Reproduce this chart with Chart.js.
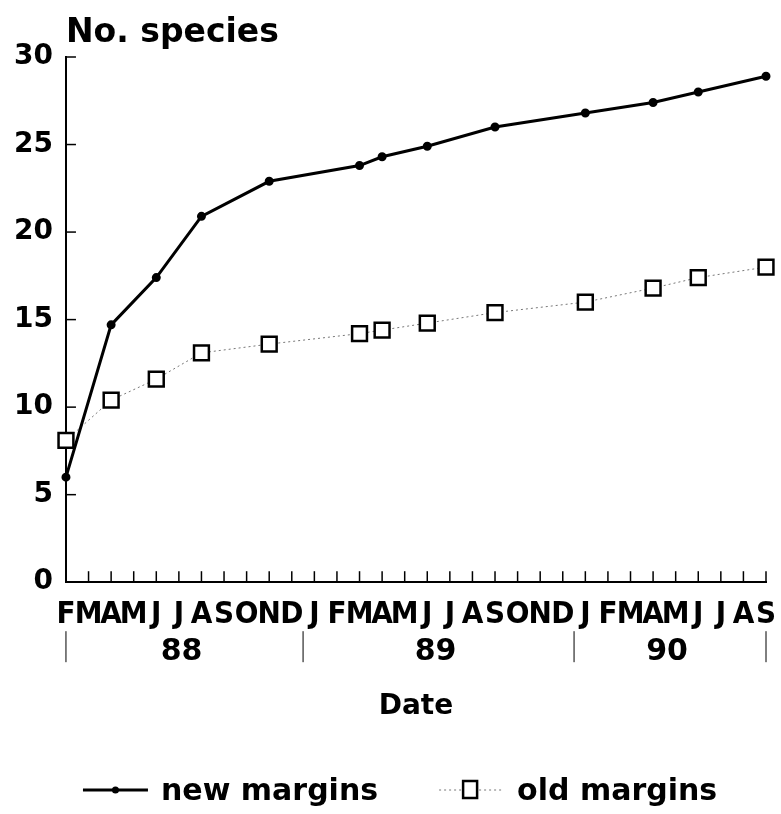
<!DOCTYPE html>
<html>
<head>
<meta charset="utf-8">
<script src="https://cdn.jsdelivr.net/npm/chart.js@4"></script>
<style>
  html, body { margin: 0; padding: 0; background: #fff; }
</style>
</head>
<body>
<canvas id="speciesChart" width="781" height="814"></canvas>
<script>
// months on the x axis, Feb 1988 to Sep 1990
const months = [
  "Feb 88", "Mar 88", "Apr 88", "May 88", "Jun 88", "Jul 88", "Aug 88", "Sep 88", "Oct 88", "Nov 88", "Dec 88",
  "Jan 89", "Feb 89", "Mar 89", "Apr 89", "May 89", "Jun 89", "Jul 89", "Aug 89", "Sep 89", "Oct 89", "Nov 89", "Dec 89",
  "Jan 90", "Feb 90", "Mar 90", "Apr 90", "May 90", "Jun 90", "Jul 90", "Aug 90", "Sep 90"
];
const years = ["88", "89", "90"];
const yTicks = [0, 5, 10, 15, 20, 25, 30];

// sampling dates and cumulative species counts
const sampleDates = ["Feb 88", "Apr 88", "Jun 88", "Aug 88", "Nov 88", "Mar 89", "Apr 89", "Jun 89", "Sep 89", "Jan 90", "Apr 90", "Jun 90", "Sep 90"];
const newMargins = [6.0, 14.7, 17.4, 20.9, 22.9, 23.8, 24.3, 24.9, 26.0, 26.8, 27.4, 28.0, 28.9];
const oldMargins = [8.1, 10.4, 11.6, 13.1, 13.6, 14.2, 14.4, 14.8, 15.4, 16.0, 16.8, 17.4, 18.0];

const seriesNames = ["new margins", "old margins"];

const BOLD = "'DejaVu Sans', sans-serif";
const NARROW = "'Liberation Sans Narrow', 'DejaVu Sans Condensed', 'Liberation Sans', sans-serif";

const toPoints = (vals) => sampleDates.map((d, i) => ({ x: d, y: vals[i] }));

// extra marks: inward ticks, year bands, y title, legend
const decorations = {
  id: "decorations",
  afterDraw(chart) {
    const { ctx, chartArea: area, scales: { x, y } } = chart;
    ctx.save();
    ctx.strokeStyle = "#000";
    ctx.fillStyle = "#000";
    ctx.lineWidth = 1.5;

    months.forEach((m, i) => {
      const px = x.getPixelForValue(i);
      ctx.beginPath();
      ctx.moveTo(px, area.bottom);
      ctx.lineTo(px, area.bottom - 11);
      ctx.stroke();
    });
    yTicks.forEach((v) => {
      const py = y.getPixelForValue(v);
      ctx.beginPath();
      ctx.moveTo(area.left, py);
      ctx.lineTo(area.left + 10, py);
      ctx.stroke();
    });

    // year groups under the month letters
    ctx.lineWidth = 1;
    ctx.font = "bold 30px " + BOLD;
    ctx.textAlign = "center";
    ctx.textBaseline = "middle";
    const bounds = [];
    years.forEach((yr) => {
      const idx = months.map((m, i) => (m.endsWith(yr) ? i : -1)).filter((i) => i >= 0);
      const first = idx[0], last = idx[idx.length - 1];
      const start = first === 0 ? x.getPixelForValue(0) : (x.getPixelForValue(first - 1) + x.getPixelForValue(first)) / 2;
      const end = last === months.length - 1 ? x.getPixelForValue(last) : (x.getPixelForValue(last) + x.getPixelForValue(last + 1)) / 2;
      if (!bounds.includes(start)) bounds.push(start);
      bounds.push(end);
      ctx.fillText(yr, (start + end) / 2 - 3, area.bottom + 70);
    });
    bounds.forEach((bx) => {
      ctx.beginPath();
      ctx.moveTo(bx, area.bottom + 49);
      ctx.lineTo(bx, area.bottom + 80);
      ctx.stroke();
    });

    // y axis title at the top
    ctx.font = "bold 33px " + BOLD;
    ctx.textAlign = "left";
    ctx.textBaseline = "alphabetic";
    ctx.fillText("No. species", area.left, 42);

    // legend
    ctx.font = "bold 30px " + BOLD;
    ctx.textBaseline = "middle";
    const ly = 790;
    const symW = [65, 62];
    const gapText = 13, gapItem = 61;
    const textW = seriesNames.map((s) => ctx.measureText(s).width);
    let lx = area.left + 17;

    ctx.lineWidth = 3;
    ctx.beginPath();
    ctx.moveTo(lx, ly);
    ctx.lineTo(lx + symW[0], ly);
    ctx.stroke();
    ctx.beginPath();
    ctx.arc(lx + symW[0] / 2, ly, 3.5, 0, Math.PI * 2);
    ctx.fill();
    lx += symW[0] + gapText;
    ctx.fillText(seriesNames[0], lx, ly + 2);
    lx += textW[0] + gapItem;

    ctx.lineWidth = 1;
    ctx.strokeStyle = "#777";
    ctx.setLineDash([2, 3]);
    ctx.beginPath();
    ctx.moveTo(lx, ly);
    ctx.lineTo(lx + symW[1], ly);
    ctx.stroke();
    ctx.setLineDash([]);
    ctx.strokeStyle = "#000";
    ctx.lineWidth = 2.5;
    ctx.fillStyle = "#fff";
    ctx.fillRect(lx + symW[1] / 2 - 7, ly - 9, 14, 17);
    ctx.strokeRect(lx + symW[1] / 2 - 7, ly - 9, 14, 17);
    ctx.fillStyle = "#000";
    lx += symW[1] + gapText + 3;
    ctx.fillText(seriesNames[1], lx, ly + 2);

    ctx.restore();
  }
};

new Chart(document.getElementById("speciesChart"), {
  type: "line",
  data: {
    labels: months,
    datasets: [
      {
        label: seriesNames[0],
        data: toPoints(newMargins),
        borderColor: "#000",
        borderWidth: 3,
        pointRadius: 3,
        pointBackgroundColor: "#000",
        pointBorderColor: "#000",
        tension: 0,
        clip: false
      },
      {
        label: seriesNames[1],
        data: toPoints(oldMargins),
        borderColor: "#777",
        borderWidth: 1,
        borderDash: [2, 3],
        pointStyle: "rect",
        pointRadius: 10.5,
        pointBorderWidth: 2.5,
        pointBackgroundColor: "#fff",
        pointBorderColor: "#000",
        tension: 0,
        clip: false
      }
    ]
  },
  options: {
    responsive: false,
    animation: false,
    devicePixelRatio: 1,
    layout: { padding: { top: 57, right: 15, left: 1, bottom: 90 } },
    plugins: {
      legend: { display: false },
      tooltip: { enabled: false }
    },
    scales: {
      x: {
        type: "category",
        offset: false,
        grid: { display: false, drawTicks: false },
        border: { display: true, color: "#000", width: 2 },
        // last letter sits at the axis end, layout padding handles the overflow
        afterFit: (scale) => { scale.paddingRight = 0; },
        ticks: {
          autoSkip: false,
          maxRotation: 0,
          padding: 14,
          color: "#000",
          font: { family: NARROW, size: 31, weight: "bold" },
          callback: (value, index) => months[index].charAt(0)
        },
        title: {
          display: true,
          text: "Date",
          color: "#000",
          font: { family: BOLD, size: 28, weight: "bold" },
          padding: { top: 43, bottom: 0 }
        }
      },
      y: {
        min: 0,
        max: 30,
        grid: { display: false, drawTicks: false },
        border: { display: true, color: "#000", width: 2 },
        ticks: {
          stepSize: 5,
          padding: 13,
          color: "#000",
          font: { family: BOLD, size: 28, weight: "bold" }
        }
      }
    }
  },
  plugins: [decorations]
});
</script>
</body>
</html>
